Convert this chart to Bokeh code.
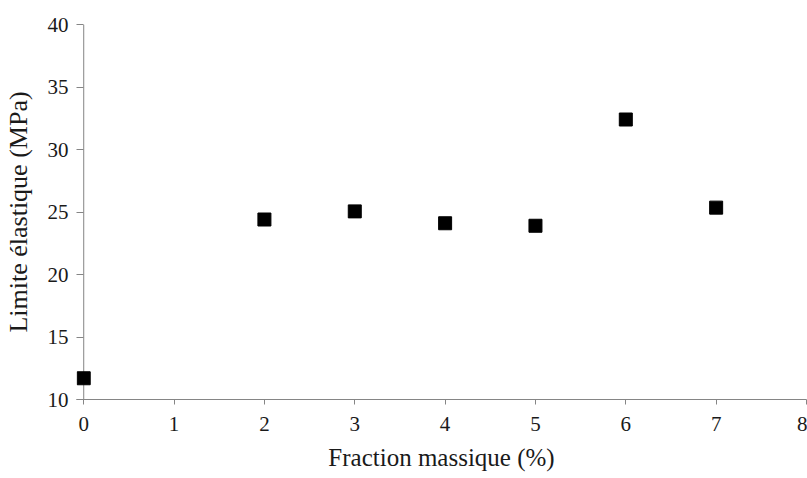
from bokeh.plotting import figure
from bokeh.models import FixedTicker, Range1d, Span
from bokeh.embed import file_html
from bokeh.resources import INLINE

fraction = [0, 2, 3, 4, 5, 6, 7]
limite = [11.7, 24.4, 25.05, 24.1, 23.9, 32.4, 25.35]
x_ticks = [0, 1, 2, 3, 4, 5, 6, 7, 8]
y_ticks = [10, 15, 20, 25, 30, 35, 40]

FONT = "Liberation Serif"
AXIS_COL = "#858585"
TEXT_COL = "#1a1a1a"

p = figure(width=807, height=478, output_backend="svg", toolbar_location=None,
           x_range=Range1d(-0.08, 8), y_range=Range1d(10, 40),
           min_border_left=76, min_border_right=1, min_border_top=24, min_border_bottom=79)
p.outline_line_color = None
p.xgrid.visible = False
p.ygrid.visible = False
p.background_fill_color = "white"
p.border_fill_color = "white"

# y-axis line drawn at x = 0 so the first marker is not clipped
p.add_layout(Span(location=x_ticks[0], dimension="height", line_color=AXIS_COL,
                  line_width=1, level="underlay"))

p.scatter(fraction, limite, marker="square", size=13, color="black")

for ax in (p.xaxis[0], p.yaxis[0]):
    ax.axis_line_color = AXIS_COL
    ax.major_tick_line_color = AXIS_COL
    ax.minor_tick_line_color = None
    ax.major_label_text_font = FONT
    ax.major_label_text_font_size = "21px"
    ax.major_label_text_color = TEXT_COL
    ax.axis_label_text_font = FONT
    ax.axis_label_text_font_style = "normal"
    ax.axis_label_text_color = TEXT_COL

p.xaxis[0].major_tick_in = 0
p.xaxis[0].major_tick_out = 5
p.yaxis[0].axis_line_color = None
p.yaxis[0].major_tick_in = 7
p.yaxis[0].major_tick_out = 0

p.xaxis[0].ticker = FixedTicker(ticks=x_ticks)
p.yaxis[0].ticker = FixedTicker(ticks=y_ticks)
p.xaxis[0].axis_label = "Fraction massique (%)"
p.yaxis[0].axis_label = "Limite élastique (MPa)"
p.xaxis[0].axis_label_text_font_size = "25px"
p.yaxis[0].axis_label_text_font_size = "26px"
p.xaxis[0].major_label_standoff = 12
p.yaxis[0].major_label_standoff = 8
p.xaxis[0].axis_label_standoff = 10
p.yaxis[0].axis_label_standoff = 12

open("out.html", "w").write(file_html(p, INLINE))
